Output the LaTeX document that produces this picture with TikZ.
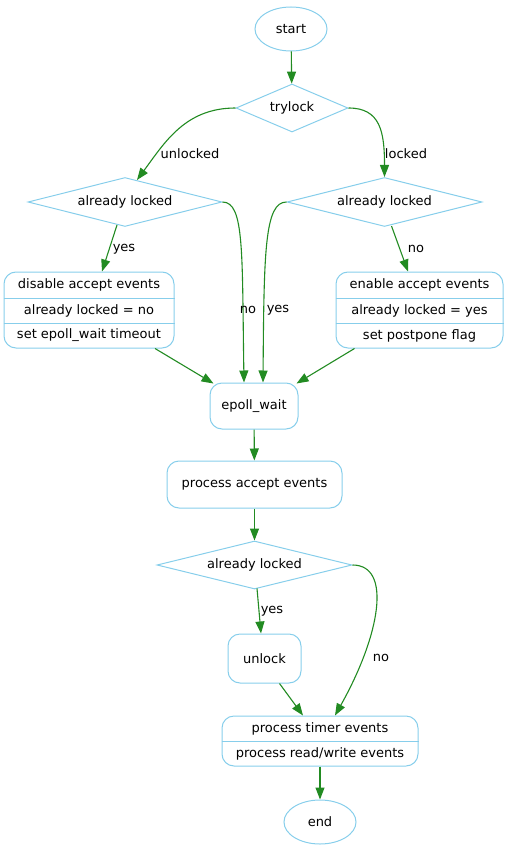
\documentclass[tikz,border=0pt]{standalone}
\usepackage{fontspec}
\setmainfont{DejaVu Sans}
\usetikzlibrary{shapes.geometric,arrows.meta}
\definecolor{nodeblue}{HTML}{87CEEB}
\definecolor{edgegreen}{HTML}{228B22}
\begin{document}
\begin{tikzpicture}[x=1pt,y=-1pt,
  every node/.style={font=\fontsize{13}{15}\selectfont, inner sep=0pt},
  oval/.style={ellipse, draw=nodeblue, line width=1pt, minimum width=72pt, minimum height=44pt},
  dia/.style={diamond, draw=nodeblue, line width=1pt, shape aspect=4},
  rbox/.style={rectangle, rounded corners=12pt, draw=nodeblue, line width=1pt},
  divl/.style={draw=nodeblue, line width=1pt},
  edge/.style={draw=edgegreen, line width=1.1pt, -{Triangle[length=12pt,width=9pt]}},
  lbl/.style={font=\fontsize{13}{15}\selectfont}
]
\useasboundingbox (0,0) rectangle (508,853);

% nodes
\node[oval] (start) at (291,29) {start};
\node[dia, shape aspect=2.3, minimum width=112pt, minimum height=48pt] (try) at (292,108) {trylock};
\node[dia, minimum width=194pt, minimum height=49pt] (dl) at (125,202) {already locked};
\node[dia, minimum width=195pt, minimum height=49pt] (dr) at (384.5,202) {already locked};

\node[rbox, minimum width=170pt, minimum height=76pt] (lrec) at (89,310) {};
\node (l1) at (89,285) {disable accept events};
\node (l2) at (89,310.5) {already locked = no};
\node (l3) at (89,335.5) {set epoll\_wait timeout};
\draw[divl] (lrec.west |- 0,298) -- (lrec.east |- 0,298);
\draw[divl] (lrec.west |- 0,323) -- (lrec.east |- 0,323);

\node[rbox, minimum width=167pt, minimum height=76pt] (rrec) at (419.5,310) {};
\node (r1) at (419.5,285) {enable accept events};
\node (r2) at (419.5,310.5) {already locked = yes};
\node (r3) at (419.5,335.5) {set postpone flag};
\draw[divl] (rrec.west |- 0,298) -- (rrec.east |- 0,298);
\draw[divl] (rrec.west |- 0,323) -- (rrec.east |- 0,323);

\node[rbox, minimum width=88pt, minimum height=46pt] (epoll) at (254,406) {epoll\_wait};
\node[rbox, minimum width=175pt, minimum height=47pt] (pae) at (254.5,484.5) {process accept events};
\node[dia, minimum width=195pt, minimum height=48pt] (bd) at (254.5,565) {already locked};
\node[rbox, minimum width=73pt, minimum height=49pt] (unlock) at (264.5,658.5) {unlock};

\node[rbox, minimum width=196pt, minimum height=50pt] (timer) at (320,741) {};
\node (t1) at (320,728.5) {process timer events};
\node (t2) at (320,753.5) {process read/write events};
\draw[divl] (timer.west |- 0,741) -- (timer.east |- 0,741);

\node[oval] (end) at (320,822) {end};

% edges
\draw[edge] (start) -- (try);
\draw[edge] (try.west) .. controls +(-50,0) and +(28,-38) .. ([xshift=12pt,yshift=-3pt]dl.north);
\draw[edge] (try.east) .. controls +(32,0) and +(0,-45) .. (dr.north);
\draw[edge] (dl.east) .. controls +(22,0) and +(-2,-130) .. ([xshift=-10pt]epoll.north);
\draw[edge] (dr.west) .. controls +(-22,0) and +(1,-130) .. ([xshift=9pt]epoll.north);
\draw[edge] ([xshift=-8pt,yshift=2pt]dl.south) -- ([xshift=13pt]lrec.north);
\draw[edge] ([xshift=7pt,yshift=1pt]dr.south) -- ([xshift=-11.5pt]rrec.north);
\draw[edge] ([xshift=66pt]lrec.south) -- ([xshift=4pt,yshift=-1pt]epoll.north west);
\draw[edge] ([xshift=-65pt]rrec.south) -- ([xshift=-2pt,yshift=-1pt]epoll.north east);
\draw[edge] (epoll) -- (pae);
\draw[edge] (pae) -- (bd);
\draw[edge] ([xshift=2.5pt,yshift=1pt]bd.south) -- ([xshift=-3.5pt]unlock.north);
\draw[edge] (bd.east) .. controls +(40,0) and +(45,-80) .. ([xshift=15pt]timer.north);
\draw[edge] ([xshift=15pt]unlock.south) -- ([xshift=-17pt]timer.north);
\draw[edge] (timer) -- (end);

% labels
\node[lbl] (lab1) at (190,154) {unlocked};
\node[lbl] (lab2) at (406,154) {locked};
\node[lbl] (lab3) at (124,249) {yes};
\node[lbl] (lab4) at (416,249) {no};
\node[lbl] (lab5) at (248,310) {no};
\node[lbl] (lab6) at (278,310) {yes};
\node[lbl] (lab7) at (272,611) {yes};
\node[lbl] (lab8) at (381,658) {no};
\end{tikzpicture}
\end{document}
